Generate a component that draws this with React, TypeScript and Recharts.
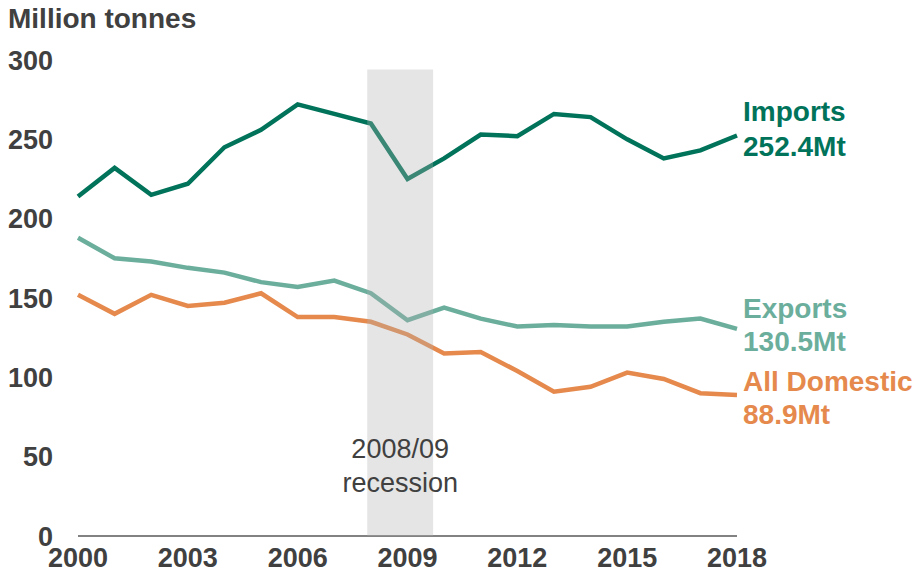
import { LineChart, Line, XAxis, YAxis, ReferenceArea } from "recharts";

const years = [
  2000, 2001, 2002, 2003, 2004, 2005, 2006, 2007, 2008, 2009, 2010, 2011, 2012,
  2013, 2014, 2015, 2016, 2017, 2018,
];
const imports = [
  214, 232, 215, 222, 245, 256, 272, 266, 260, 225, 238, 253, 252, 266, 264, 250,
  238, 243, 252.4,
];
const exports = [
  188, 175, 173, 169, 166, 160, 157, 161, 153, 136, 144, 137, 132, 133, 132, 132,
  135, 137, 130.5,
];
const domestic = [
  152, 140, 152, 145, 147, 153, 138, 138, 135, 127, 115, 116, 104, 91, 94, 103,
  99, 90, 88.9,
];
const xTicks = [2000, 2003, 2006, 2009, 2012, 2015, 2018];
const yTicks = [0, 50, 100, 150, 200, 250, 300];

const data = years.map((y, i) => ({
  year: y,
  imports: imports[i],
  exports: exports[i],
  domestic: domestic[i],
}));

const TEXT = "#404040";
const FONT = "'Liberation Sans', Arial, sans-serif";

// label at the last point only, two lines
const endLabel =
  (name: string, value: string, color: string, dy1: number, dy2: number) =>
  (props: any) => {
    if (props.index !== years.length - 1) return null;
    const x = props.x + 6;
    return (
      <g>
        <text x={x} y={props.y + dy1} dy="0.36em" fill={color} fontSize={28} fontWeight="bold" fontFamily={FONT}>
          {name}
        </text>
        <text x={x} y={props.y + dy2} dy="0.36em" fill={color} fontSize={28} fontWeight="bold" fontFamily={FONT}>
          {value}
        </text>
      </g>
    );
  };

const recessionLabel = (props: any) => {
  const vb = props.viewBox;
  const cx = vb.x + vb.width / 2;
  return (
    <g>
      <text x={cx} y={448} textAnchor="middle" dy="0.36em" fill={TEXT} fontSize={27} fontFamily={FONT}>
        2008/09
      </text>
      <text x={cx} y={482} textAnchor="middle" dy="0.36em" fill={TEXT} fontSize={27} fontFamily={FONT}>
        recession
      </text>
    </g>
  );
};

export default function App() {
  return (
    <div style={{ position: "absolute", left: 0, top: 0, width: 915, height: 573, background: "#fff" }}>
      <div
        style={{
          position: "absolute",
          left: 8,
          top: 5,
          fontFamily: FONT,
          fontWeight: "bold",
          fontSize: 28,
          lineHeight: "28px",
          color: TEXT,
        }}
      >
        Million tonnes
      </div>
      <LineChart
        width={915}
        height={573}
        data={data}
        margin={{ top: 60, right: 178, bottom: 0, left: 0 }}
      >
        <XAxis
          dataKey="year"
          type="number"
          domain={[2000, 2018]}
          ticks={xTicks}
          height={37}
          tickSize={0}
          tickMargin={12}
          tickLine={false}
          axisLine={{ stroke: "#595959", strokeWidth: 1.5 }}
          tick={{ fill: TEXT, fontSize: 27, fontWeight: "bold", fontFamily: FONT }}
          interval={0}
        />
        <YAxis
          domain={[0, 300]}
          ticks={yTicks}
          width={78}
          tickSize={0}
          tickMargin={25}
          tickLine={false}
          axisLine={false}
          tick={{ fill: TEXT, fontSize: 27, fontWeight: "bold", fontFamily: FONT }}
          interval={0}
        />
        <Line
          dataKey="imports"
          stroke="#00735a"
          strokeWidth={4.5}
          dot={false}
          isAnimationActive={false}
          label={endLabel("Imports", "252.4Mt", "#00735a", -25, 10)}
        />
        <Line
          dataKey="exports"
          stroke="#6bae9c"
          strokeWidth={4.5}
          dot={false}
          isAnimationActive={false}
          label={endLabel("Exports", "130.5Mt", "#6bae9c", -21, 12)}
        />
        <Line
          dataKey="domestic"
          stroke="#e5894d"
          strokeWidth={4.5}
          dot={false}
          isAnimationActive={false}
          label={endLabel("All Domestic", "88.9Mt", "#e5894d", -14, 19)}
        />
        <ReferenceArea
          x1={2007.9}
          x2={2009.7}
          y1={0}
          y2={294}
          fill="#b0b0b0"
          fillOpacity={0.33}
          stroke="none"
          zIndex={1000}
          label={{ content: recessionLabel }}
        />
      </LineChart>
    </div>
  );
}
